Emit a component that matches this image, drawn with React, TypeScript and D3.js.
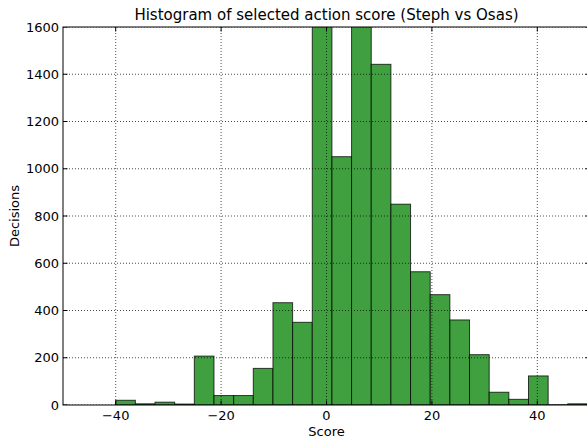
import React from "react";
import * as d3 from "d3";

const binEdges = [-40, -36.27, -32.54, -28.81, -25.08, -21.35, -17.62, -13.89, -10.16, -6.43, -2.7, 1.03, 4.76, 8.49, 12.22, 15.95, 19.68, 23.41, 27.14, 30.87, 34.6, 38.33, 42.06, 45.79, 49.52];
const counts = [20, 5, 12, 4, 207, 40, 40, 155, 433, 350, 1900, 1051, 1850, 1442, 850, 564, 467, 360, 213, 54, 24, 123, 1, 5];
const xTicks = [-40, -20, 0, 20, 40];
const yTicks = [0, 200, 400, 600, 800, 1000, 1200, 1400, 1600];

const title = "Histogram of selected action score (Steph vs Osas)";
const xLabel = "Score";
const yLabel = "Decisions";

const W = 587, H = 440;
const M = { left: 63, top: 27, right: 590, bottom: 405 };

export default function App() {
  const x = d3.scaleLinear().domain([-50, 50]).range([M.left, M.right]);
  const y = d3.scaleLinear().domain([0, 1600]).range([M.bottom, M.top]);
  const fmt = (v: number) => (v < 0 ? "\u2212" + Math.abs(v) : String(v));
  const font = "DejaVu Sans, sans-serif";
  const tl = 4.5;
  return (
    <svg width={W} height={H} style={{ position: "fixed", left: 0, top: 0, background: "#fff" }} fontFamily={font}>
      <defs>
        <clipPath id="plot">
          <rect x={M.left} y={M.top} width={M.right - M.left} height={M.bottom - M.top} />
        </clipPath>
      </defs>
      <rect x={0} y={0} width={W} height={H} fill="#fff" />
      <g clipPath="url(#plot)">
        {counts.map((c, i) => (
          <rect
            key={i}
            x={x(binEdges[i])}
            y={y(c)}
            width={x(binEdges[i + 1]) - x(binEdges[i])}
            height={y(0) - y(c)}
            fill="rgb(64,160,64)"
            stroke="rgba(0,0,0,0.75)"
            strokeWidth={1}
          />
        ))}
        {xTicks.map((t) => (
          <line key={"gx" + t} x1={x(t)} x2={x(t)} y1={M.top} y2={M.bottom} stroke="#000" strokeWidth={0.7} strokeDasharray="1,2" />
        ))}
        {yTicks.map((t) => (
          <line key={"gy" + t} x1={M.left} x2={M.right} y1={y(t)} y2={y(t)} stroke="#000" strokeWidth={0.7} strokeDasharray="1,2" />
        ))}
        {xTicks.map((t) => (
          <g key={"tx" + t}>
            <line x1={x(t)} x2={x(t)} y1={M.bottom} y2={M.bottom - tl} stroke="#000" />
            <line x1={x(t)} x2={x(t)} y1={M.top} y2={M.top + tl} stroke="#000" />
          </g>
        ))}
        {yTicks.map((t) => (
          <g key={"ty" + t}>
            <line x1={M.left} x2={M.left + tl} y1={y(t)} y2={y(t)} stroke="#000" />
            <line x1={M.right} x2={M.right - tl} y1={y(t)} y2={y(t)} stroke="#000" />
          </g>
        ))}
      </g>
      <rect x={M.left} y={M.top} width={M.right - M.left} height={M.bottom - M.top} fill="none" stroke="#000" strokeWidth={1} />
      {xTicks.map((t) => (
        <text key={"lx" + t} x={x(t)} y={M.bottom + 15} textAnchor="middle" fontSize={13} fill="#000">
          {fmt(t)}
        </text>
      ))}
      {yTicks.map((t) => (
        <text key={"ly" + t} x={M.left - 4} y={y(t) + 4.5} textAnchor="end" fontSize={13} fill="#000">
          {fmt(t)}
        </text>
      ))}
      <text x={(M.left + M.right) / 2} y={20} textAnchor="middle" fontSize={15} fill="#000">
        {title}
      </text>
      <text x={(M.left + M.right) / 2} y={436} textAnchor="middle" fontSize={13} fill="#000">
        {xLabel}
      </text>
      <text transform={`translate(19,${(M.top + M.bottom) / 2}) rotate(-90)`} textAnchor="middle" fontSize={13} fill="#000">
        {yLabel}
      </text>
    </svg>
  );
}
